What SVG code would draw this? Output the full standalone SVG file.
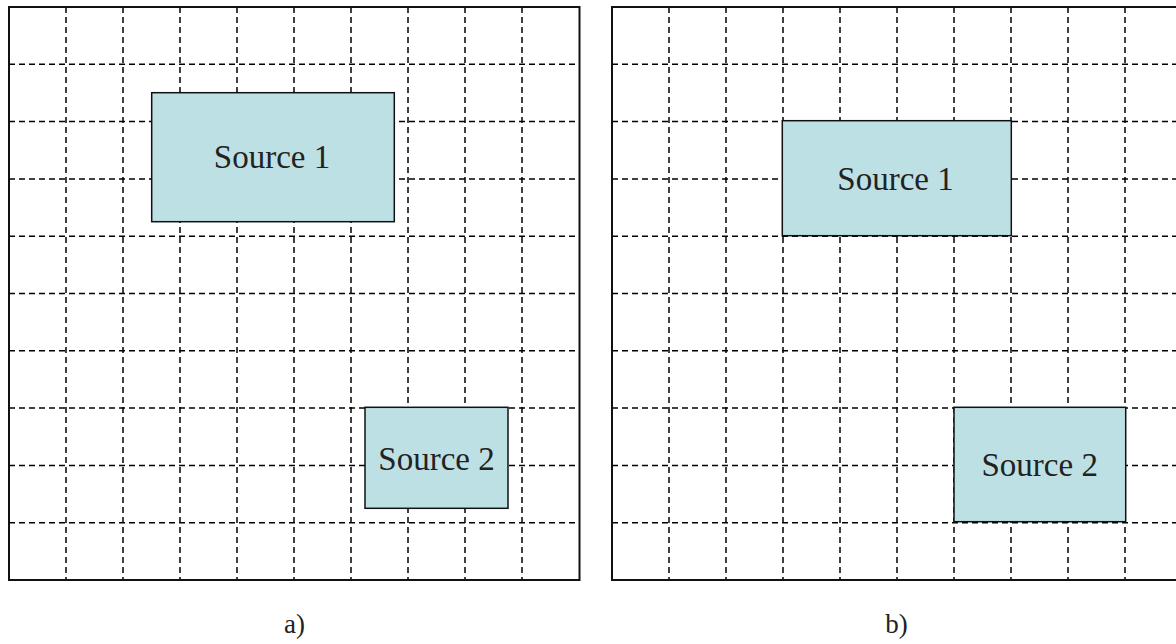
<svg xmlns="http://www.w3.org/2000/svg" width="1176" height="644" viewBox="0 0 1176 644">
<style>
.grid{stroke:#000;stroke-width:1.5;stroke-dasharray:6 4;fill:none}
.frame{stroke:#111;stroke-width:2;fill:none}
.box{fill:#bde0e4;stroke:#111;stroke-width:1.5}
.lbl{font-family:"Liberation Serif",serif;font-size:33px;fill:#222;text-anchor:middle}
.cap{font-family:"Liberation Serif",serif;font-size:27px;fill:#222;text-anchor:middle}
</style>
<g id="panel-a-grid">
<path class="grid" d="M66,7V580M123,7V580M180,7V580M237,7V580M294,7V580M351,7V580M408,7V580M465,7V580M522,7V580"/>
<path class="grid" d="M9,64.3H580M9,121.6H580M9,178.9H580M9,236.2H580M9,293.5H580M9,350.8H580M9,408.1H580M9,465.4H580M9,522.7H580"/>
<rect class="frame" x="9" y="7" width="570.5" height="573"/>
</g>
<g id="panel-b-grid">
<path class="grid" d="M669,7V580M726,7V580M783,7V580M840,7V580M897,7V580M954,7V580M1011,7V580M1068,7V580M1125,7V580"/>
<path class="grid" d="M612,64.3H1182M612,121.6H1182M612,178.9H1182M612,236.2H1182M612,293.5H1182M612,350.8H1182M612,408.1H1182M612,465.4H1182M612,522.7H1182"/>
<path class="frame" d="M1182,7H612V580H1182"/>
</g>
<g id="a-source1">
<rect class="box" x="151.7" y="92.7" width="242.6" height="129"/>
<text class="lbl" x="272" y="168">Source 1</text>
</g>
<g id="a-source2">
<rect class="box" x="365" y="407.3" width="143" height="101"/>
<text class="lbl" x="436.5" y="469.5">Source 2</text>
</g>
<g id="b-source1">
<rect class="box" x="782.3" y="120.7" width="229" height="115"/>
<text class="lbl" x="895.5" y="190">Source 1</text>
</g>
<g id="b-source2">
<rect class="box" x="954" y="407.3" width="171.7" height="114.4"/>
<text class="lbl" x="1039.7" y="476">Source 2</text>
</g>
<g id="captions">
<text class="cap" x="294.5" y="633">a)</text>
<text class="cap" x="896.5" y="633">b)</text>
</g>
</svg>
